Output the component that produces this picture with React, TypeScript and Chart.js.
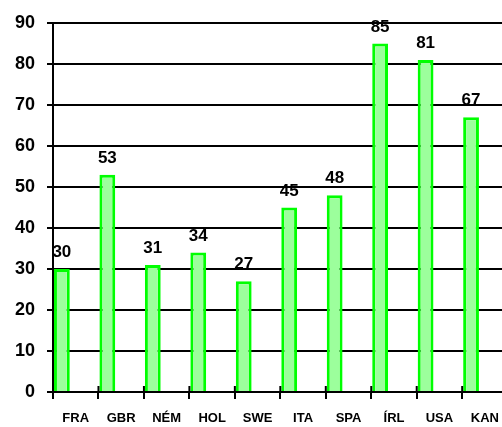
import React, { useEffect, useRef } from "react";
import { Chart, registerables } from "chart.js";

Chart.register(...registerables);

const categories = ["FRA", "GBR", "NÉM", "HOL", "SWE", "ITA", "SPA", "ÍRL", "USA", "KAN"];
const values = [30, 53, 31, 34, 27, 45, 48, 85, 81, 67];
const spacer = [0, 0, 0, 0, 0, 0, 0, 0, 0, 0];
const yMin = 0;
const yMax = 90;
const yStep = 10;

const FONT = "'Liberation Sans', Arial, sans-serif";

const crossTicks = {
  id: "crossTicks",
  afterDraw(chart: any) {
    const { ctx, chartArea, scales } = chart;
    const x = scales.x;
    ctx.save();
    ctx.strokeStyle = "#000";
    ctx.lineWidth = 2;
    for (let i = 0; i <= categories.length; i++) {
      const px = x.getPixelForValue(i - 0.5);
      ctx.beginPath();
      ctx.moveTo(px, chartArea.bottom - 6);
      ctx.lineTo(px, chartArea.bottom);
      ctx.stroke();
    }
    ctx.restore();
  },
};

const valueLabels = {
  id: "valueLabels",
  afterDatasetsDraw(chart: any) {
    const { ctx } = chart;
    const meta = chart.getDatasetMeta(0);
    ctx.save();
    ctx.fillStyle = "#000";
    ctx.font = `bold 17px ${FONT}`;
    ctx.textAlign = "center";
    ctx.textBaseline = "alphabetic";
    meta.data.forEach((bar: any, i: number) => {
      ctx.fillText(String(values[i]), bar.x, bar.y - 12);
    });
    ctx.restore();
  },
};

export default function App() {
  const ref = useRef<HTMLCanvasElement>(null);
  useEffect(() => {
    if (!ref.current) return;
    const chart = new Chart(ref.current, {
      type: "bar",
      data: {
        labels: categories,
        datasets: [
          {
            data: values,
            backgroundColor: "#9cff9c",
            borderColor: "#00ff00",
            borderWidth: 3,
            barPercentage: 0.57,
            categoryPercentage: 1.22,
          },
          {
            data: spacer,
            backgroundColor: "rgba(0,0,0,0)",
            borderWidth: 0,
            barPercentage: 0.57,
            categoryPercentage: 1.22,
          },
        ],
      },
      options: {
        animation: false,
        responsive: false,
        layout: { padding: { top: 23, left: 0, right: 0, bottom: 0 } },
        plugins: {
          legend: { display: false },
          tooltip: { enabled: false },
        },
        scales: {
          x: {
            offset: true,
            grid: {
              display: true,
              drawOnChartArea: false,
              drawTicks: true,
              tickLength: 7,
              color: "#000",
              lineWidth: 2,
              offset: true,
            },
            border: { display: true, color: "#000", width: 2 },
            ticks: {
              color: "#000",
              font: { family: FONT, size: 13, weight: "bold" },
              padding: 12,
              maxRotation: 0,
              autoSkip: false,
            },
            afterFit(scale: any) {
              scale.height = 35;
            },
          },
          y: {
            min: yMin,
            max: yMax,
            grid: {
              color: "#000",
              lineWidth: 2,
              tickLength: 6,
            },
            border: { display: true, color: "#000", width: 2 },
            ticks: {
              stepSize: yStep,
              color: "#000",
              font: { family: FONT, size: 18, weight: "bold" },
              padding: 12,
            },
            afterFit(scale: any) {
              scale.width = 53;
            },
          },
        },
      },
      plugins: [crossTicks, valueLabels],
    });
    return () => chart.destroy();
  }, []);
  return (
    <div
      style={{
        position: "absolute",
        left: 0,
        top: 0,
        width: 502,
        height: 427,
        overflow: "hidden",
        background: "#fff",
      }}
    >
      <canvas ref={ref} width={511} height={427} style={{ display: "block" }} />
    </div>
  );
}
